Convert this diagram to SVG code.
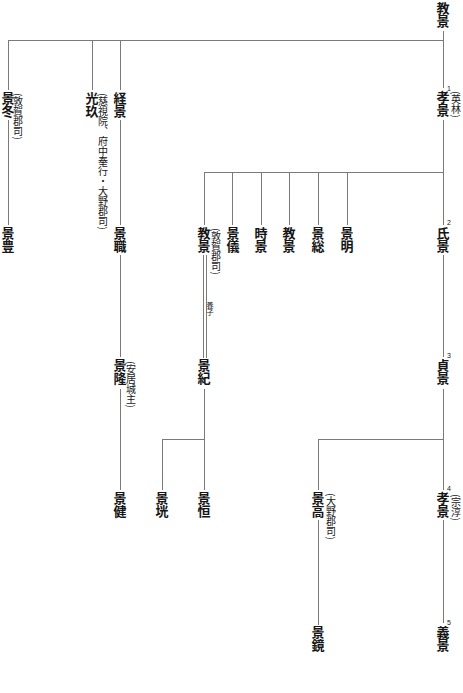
<svg xmlns="http://www.w3.org/2000/svg" width="463" height="693" viewBox="0 0 463 693">
<style>
.n{font-family:"Noto Sans CJK JP","Noto Sans CJK SC",sans-serif;font-size:13px;font-weight:700;writing-mode:vertical-rl;fill:#151515}
.a{font-family:"Noto Sans CJK JP","Noto Sans CJK SC",sans-serif;font-size:10px;font-weight:400;writing-mode:vertical-rl;fill:#151515}
.y{font-family:"Noto Sans CJK JP","Noto Sans CJK SC",sans-serif;font-size:7px;writing-mode:vertical-rl;fill:#151515}
.s{font-family:"Liberation Sans",sans-serif;font-size:7px;fill:#151515}
.l{stroke:#7a7a7a;stroke-width:1;fill:none}
</style>
<rect width="463" height="693" fill="#fff"/>
<g id="connectors" class="l">
<path d="M443.5 31V88M8.5 40.5H443.5M8.5 40V90M92.5 40V90M120.5 40V90"/>
<path d="M443.5 120V225M204.5 172.5H443.5M204.5 172V225M232.5 172V225M261.5 172V225M289.5 172V225M318.5 172V225M347.5 172V225"/>
<path d="M8.5 120V225M120.5 120V225M120.5 255V357M120.5 389V490"/>
<path d="M203.5 255V358M206.5 255V358"/>
<path d="M204.5 389V490M162.5 439.5H204.5M162.5 439V490"/>
<path d="M443.5 255V357M443.5 389V490M318.5 439.5H443.5M318.5 439V490M318.5 520V625M443.5 520V623"/>
</g>
<g id="n-norikage"><text class="n" x="443" y="2">教景</text></g>
<g id="n-takakage1"><text class="s" x="447" y="91">1</text><text class="n" x="443" y="91">孝景</text><text class="a" x="456" y="91">(英林)</text></g>
<g id="n-kagefuyu"><text class="n" x="8" y="92">景冬</text><text class="a" x="18" y="93">(敦賀郡司)</text></g>
<g id="n-mitsuharu"><text class="n" x="92" y="92">光玖</text><text class="a" x="103" y="93">(慈視院、府中奉行・大野郡司)</text></g>
<g id="n-tsunekage"><text class="n" x="120" y="92">経景</text></g>
<g id="n-kagetoyo"><text class="n" x="8" y="227">景豊</text></g>
<g id="n-kagemoto"><text class="n" x="120" y="227">景職</text></g>
<g id="n-norikage2"><text class="n" x="204" y="227">教景</text><text class="a" x="216" y="228">(敦賀郡司)</text></g>
<g id="n-kagenori-g"><text class="n" x="233" y="227">景儀</text></g>
<g id="n-tokikage"><text class="n" x="261" y="227">時景</text></g>
<g id="n-norikage3"><text class="n" x="289" y="227">教景</text></g>
<g id="n-kagefusa"><text class="n" x="318" y="227">景総</text></g>
<g id="n-kageaki"><text class="n" x="347" y="227">景明</text></g>
<g id="n-ujikage"><text class="s" x="447" y="225">2</text><text class="n" x="443" y="227">氏景</text></g>
<g id="adoption"><text class="y" x="210" y="302">養子</text></g>
<g id="n-kagetaka-a"><text class="n" x="120" y="359">景隆</text><text class="a" x="131" y="361">(安居城主)</text></g>
<g id="n-kagenori"><text class="n" x="204" y="359">景紀</text></g>
<g id="n-sadakage"><text class="s" x="447" y="358">3</text><text class="n" x="443" y="359">貞景</text></g>
<g id="n-kagetake"><text class="n" x="120" y="492">景健</text></g>
<g id="n-kagemitsu"><text class="n" x="162" y="492">景垙</text></g>
<g id="n-kagetsune"><text class="n" x="204" y="492">景恒</text></g>
<g id="n-kagetaka"><text class="n" x="318" y="492">景高</text><text class="a" x="331" y="493">(大野郡司)</text></g>
<g id="n-takakage4"><text class="s" x="447" y="491">4</text><text class="n" x="443" y="492">孝景</text><text class="a" x="456" y="494">(宗淳)</text></g>
<g id="n-kageakira"><text class="n" x="318" y="626">景鏡</text></g>
<g id="n-yoshikage"><text class="s" x="447" y="625">5</text><text class="n" x="443" y="626">義景</text></g>
</svg>
